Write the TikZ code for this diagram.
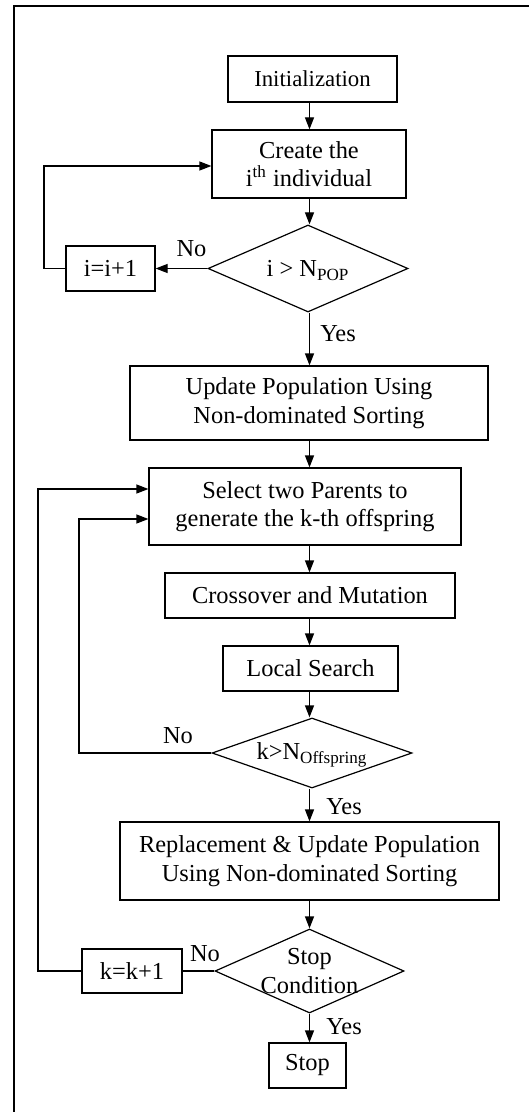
\documentclass[tikz,border=0pt]{standalone}
\usepackage{fontspec}
\setmainfont{Liberation Serif}
\usetikzlibrary{shapes.geometric,arrows.meta}
\begin{document}
\begin{tikzpicture}[x=0.5pt,y=-0.5pt,
  every node/.style={font=\fontsize{12.2}{14.3}\selectfont},
  box/.style 2 args={draw,rectangle,line width=0.6pt,inner sep=0pt,align=center,minimum width=#1,minimum height=#2},
  dec/.style 2 args={draw,diamond,line width=0.6pt,inner sep=0pt,minimum width=#1,minimum height=#2},
  arr/.style={line width=0.6pt,-{Triangle[length=6pt,width=4.5pt]}},
  ln/.style={line width=0.6pt},
  tag/.style={inner sep=0pt}
]
\useasboundingbox (0,0) rectangle (529,1112);
% frame
\draw[ln] (14,1112) -- (14,6) -- (529,6);
% column and loop guide coordinates
\coordinate (col) at (309.5,0);
\coordinate (lx1) at (44,0);
\coordinate (lx2) at (38,0);
\coordinate (lx3) at (79,0);
% nodes
\node[box={84.5pt}{23pt},font=\fontsize{11.4}{14}\selectfont] (init) at (312.5,79) {Initialization};
\node[box={97pt}{34pt}] (create) at (309,164) {Create the\\i\textsuperscript{th} individual};
\node[dec={100pt}{43.5pt},label={[tag,yshift=-1pt]center:i > N\textsubscript{POP}}] (d1) at (308,268.5) {};
\node[box={44.5pt}{22.5pt}] (inci) at (110.5,268.5) {i=i+1};
\node[box={179pt}{37pt}] (update) at (309,403) {Update Population Using\\Non-dominated Sorting};
\node[box={156pt}{38.5pt}] (select) at (305,506.5) {Select two Parents to\\generate the k-th offspring};
\node[box={145pt}{22.5pt}] (cross) at (310,595.5) {Crossover and Mutation};
\node[box={87.5pt}{22.5pt}] (local) at (310.5,668.5) {Local Search};
\node[dec={100pt}{35pt},label={[tag,yshift=-1pt]center:k>N\textsubscript{Offspring}}] (d2) at (312,753) {};
\node[box={189.5pt}{39pt}] (repl) at (309.5,861) {Replacement \& Update Population\\Using Non-dominated Sorting};
\node[dec={94.5pt}{42pt},label={[tag,align=center]center:Stop\\Condition}] (d3) at (309.5,971) {};
\node[box={50pt}{22pt}] (inck) at (132,971) {k=k+1};
\node[box={38.5pt}{22.5pt}] (stop) at (307.5,1065.5) {Stop};
% labels
\node[tag] (no1) at (191.5,249) {No};
\node[tag] (yes1) at (338,334) {Yes};
\node[tag] (no2) at (178,736) {No};
\node[tag] (yes2) at (344,807) {Yes};
\node[tag] (no3) at (205,954) {No};
\node[tag] (yes3) at (344,1027) {Yes};
% main flow
\draw[arr] (init.south -| col) -- (create.north -| col);
\draw[arr] (create.south -| col) -- (d1.north -| col);
\draw[arr] (d1.south -| col) -- (update.north -| col);
\draw[arr] (update.south -| col) -- (select.north -| col);
\draw[arr] (select.south -| col) -- (cross.north -| col);
\draw[arr] (cross.south -| col) -- (local.north -| col);
\draw[arr] (local.south -| col) -- (d2.north -| col);
\draw[arr] (d2.south -| col) -- (repl.north -| col);
\draw[arr] (repl.south -| col) -- (d3.north -| col);
\draw[arr] (d3.south -| col) -- (stop.north -| col);
% loops
\draw[arr] (d1.west) -- (inci.east);
\draw[arr] (inci.west) -- (inci.west -| lx1) |- ([yshift=-1pt]create.west);
\draw[arr] (d2.west) -- (d2.west -| lx3) |- ([yshift=-6.25pt]select.west);
\draw[ln] (d3.west) -- (inck.east);
\draw[arr] (inck.west) -- (inck.west -| lx2) |- ([yshift=8.75pt]select.west);
\end{tikzpicture}
\end{document}
